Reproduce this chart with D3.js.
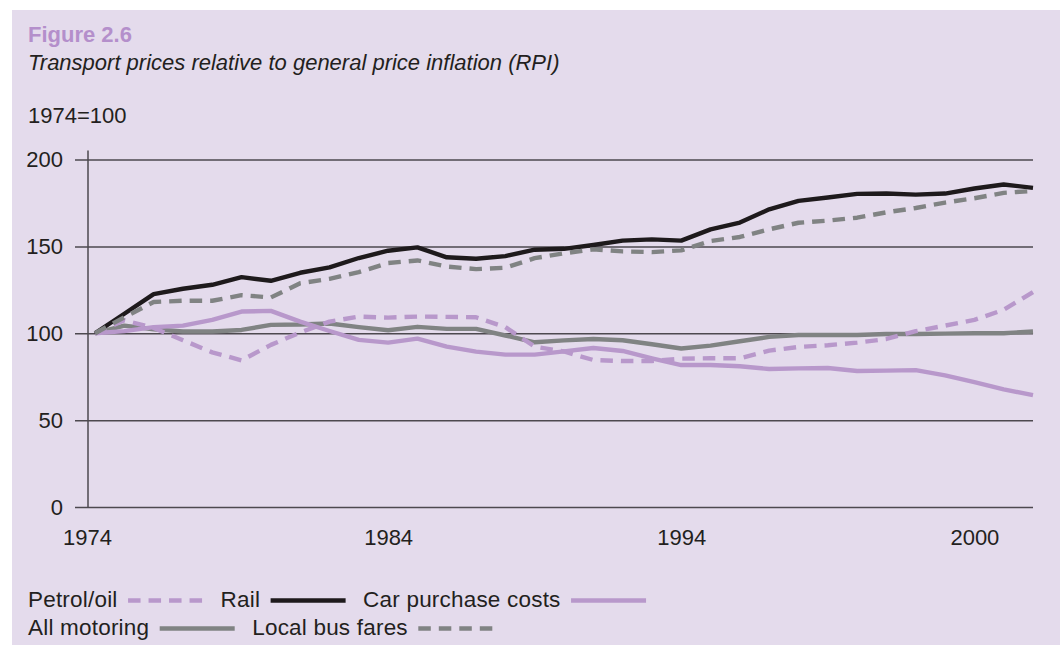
<!DOCTYPE html>
<html>
<head>
<meta charset="utf-8">
<script src="https://cdn.jsdelivr.net/npm/d3@7"></script>
<style>
  html, body { margin: 0; padding: 0; background: #ffffff; }
  svg { display: block; font-family: "Liberation Sans", Arial, Helvetica, sans-serif; }
</style>
</head>
<body>
<svg id="chart" width="1060" height="647"></svg>
<script>
// ---- data ----
const categories = [0,1,2,3,4,5,6,7,8,9,10,11,12,13,14,15,16,17,18,19,20,21,22,23,24,25,26,27,28,29,30,31,32];
const xTickIndex = [0, 10, 20, 30];
const xTickLabels = ["1974", "1984", "1994", "2000"];
const yTicks = [0, 50, 100, 150, 200];

const petrolOil = [100, 107.5, 103, 96, 89, 84.4, 93.3, 100.4, 106.7, 109.6, 109, 109.6, 109.4, 109.2, 103.5, 92.3, 89.5, 84.6, 84, 84, 85.4, 85.6, 85.6, 90, 92.1, 93.1, 94.6, 96.7, 101.2, 104.4, 107.7, 113.5, 123.7];
const rail = [100, 111.2, 122.5, 125.6, 127.9, 132.3, 130.2, 134.8, 137.9, 143.3, 147.5, 149.4, 143.7, 142.9, 144.4, 148.1, 148.6, 150.8, 153.3, 154, 153.3, 159.8, 163.7, 171.3, 176.2, 178.1, 180.2, 180.4, 179.8, 180.4, 183.3, 185.6, 183.7];
const carPurchase = [100, 101.2, 103.5, 104.4, 107.7, 112.5, 112.9, 106.7, 101.3, 96.2, 94.6, 96.9, 92.3, 89.4, 87.7, 87.7, 89.6, 91.5, 89.8, 85.6, 81.7, 81.7, 81, 79.4, 79.8, 80, 78.3, 78.5, 78.8, 75.8, 71.9, 67.7, 64.4];
const allMotoring = [100, 104.4, 102.3, 101, 101, 101.9, 104.8, 105, 105.6, 103.5, 101.7, 103.7, 102.5, 102.5, 98.7, 94.8, 95.9, 96.7, 96, 93.7, 91.2, 92.9, 95.4, 97.9, 99, 99, 99, 99.6, 99.6, 99.8, 100, 100, 101];
const localBus = [100, 109.2, 118, 118.7, 118.7, 121.9, 120.6, 128.8, 131.3, 135.2, 140.4, 141.9, 138.4, 136.9, 137.7, 143.2, 146, 148.3, 147.1, 146.7, 147.7, 153.1, 155.4, 159.8, 163.6, 164.8, 166.5, 169.6, 172.1, 175.2, 177.7, 180.8, 181.9];

const seriesNames = ["Petrol/oil", "Rail", "Car purchase costs", "All motoring", "Local bus fares"];

// ---- styles ----
const PURPLE = "#b898cb", BLACK = "#1e1a1c", GREY = "#808383";
const DASH = "12.5,8";
const styles = {
  "Petrol/oil": { color: PURPLE, dash: DASH, data: petrolOil },
  "Rail": { color: BLACK, dash: null, data: rail },
  "Car purchase costs": { color: PURPLE, dash: null, data: carPurchase },
  "All motoring": { color: GREY, dash: null, data: allMotoring },
  "Local bus fares": { color: GREY, dash: DASH, data: localBus }
};
const drawOrder = ["All motoring", "Car purchase costs", "Petrol/oil", "Rail", "Local bus fares"];

const TEXT = "#231f20";
const GRID = "#4d494f";
const FS = 22;

const svg = d3.select("#chart");

// panel
svg.append("rect").attr("x", 12).attr("y", 10).attr("width", 1048).attr("height", 635).attr("fill", "#e4dbec");

// titles
svg.append("text").attr("x", 28).attr("y", 42).attr("font-size", FS).attr("font-weight", "bold")
  .attr("fill", "#b48fcb").text("Figure 2.6");
svg.append("text").attr("x", 28).attr("y", 70).attr("font-size", FS).attr("font-style", "italic")
  .attr("fill", TEXT).text("Transport prices relative to general price inflation (RPI)");
svg.append("text").attr("x", 28).attr("y", 123).attr("font-size", FS)
  .attr("fill", TEXT).text("1974=100");

// scales
const left = 88, right = 1033;
const x = d3.scalePoint().domain(categories).range([95, right]);
const y = d3.scaleLinear().domain([0, 200]).range([507, 159.5]);

// y gridlines + labels
const yAxis = d3.axisLeft(y).tickValues(yTicks).tickSize(right - 75).tickPadding(12).tickFormat(d3.format("d"));
const gy = svg.append("g").attr("transform", `translate(${right},0)`).call(yAxis);
gy.select(".domain").remove();
gy.selectAll(".tick line").attr("stroke", GRID).attr("stroke-width", 1.5);
gy.selectAll(".tick text").attr("font-size", FS).attr("fill", TEXT).attr("font-family", null);

// y axis line
svg.append("line").attr("x1", left).attr("x2", left).attr("y1", y(200) - 9).attr("y2", y(0) + 1)
  .attr("stroke", GRID).attr("stroke-width", 1.5);

// x axis labels
const xAxis = d3.axisBottom(x).tickValues(xTickIndex).tickSize(0).tickPadding(22)
  .tickFormat((d) => xTickLabels[xTickIndex.indexOf(d)]);
const gx = svg.append("g").attr("transform", `translate(0,${y(0)})`).call(xAxis);
gx.select(".domain").remove();
gx.selectAll(".tick text").attr("font-size", FS).attr("fill", TEXT).attr("font-family", null)
  .attr("dx", (d, i) => (i === 0 ? -8 : 0));

// lines
const line = d3.line().x((d, i) => x(categories[i])).y((d) => y(d));
drawOrder.forEach((name) => {
  const s = styles[name];
  svg.append("path").datum(s.data).attr("d", line)
    .attr("fill", "none").attr("stroke", s.color).attr("stroke-width", 4.4)
    .attr("stroke-linejoin", "round")
    .attr("stroke-dasharray", s.dash);
});

// legend
const legendRows = [["Petrol/oil", "Rail", "Car purchase costs"], ["All motoring", "Local bus fares"]];
const rowBaselines = [607, 635];
legendRows.forEach((row, r) => {
  let cx = 28;
  row.forEach((name) => {
    const s = styles[name];
    const t = svg.append("text").attr("x", cx).attr("y", rowBaselines[r]).attr("font-size", 22.5)
      .attr("letter-spacing", 0.2).attr("fill", TEXT).text(name);
    const w = t.node().getComputedTextLength();
    const lx = cx + w + 10.5;
    svg.append("line").attr("x1", lx).attr("x2", lx + 75)
      .attr("y1", rowBaselines[r] - 6.5).attr("y2", rowBaselines[r] - 6.5)
      .attr("stroke", s.color).attr("stroke-width", 4.4).attr("stroke-dasharray", s.dash);
    cx = lx + 75 + 17.5;
  });
});
</script>
</body>
</html>
